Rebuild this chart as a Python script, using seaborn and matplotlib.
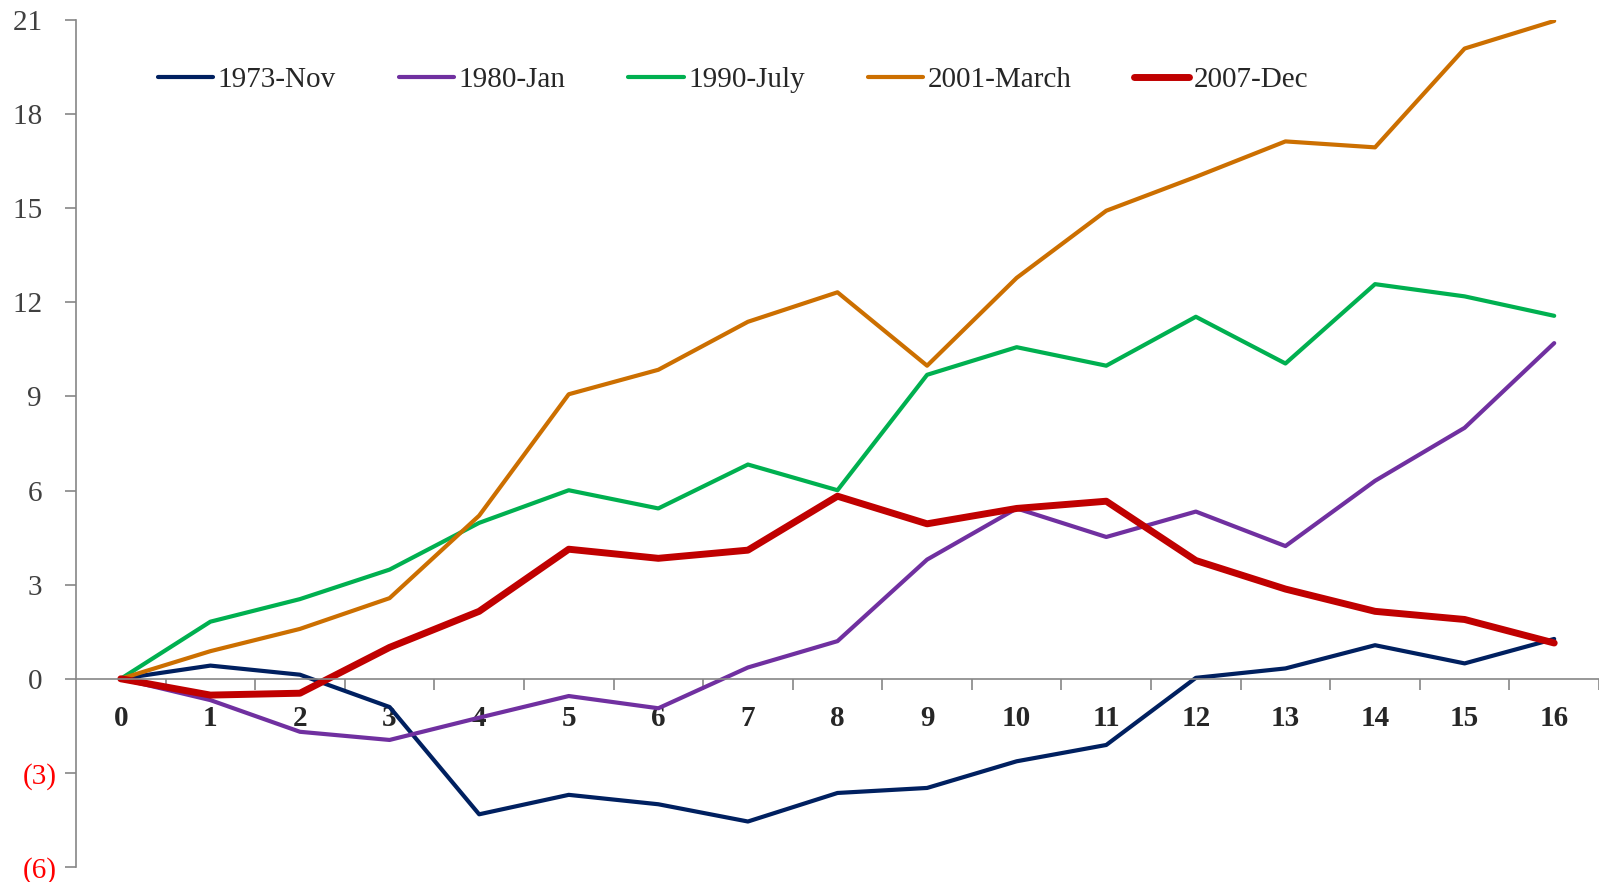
import pandas as pd
import matplotlib.pyplot as plt
import seaborn as sns
from matplotlib.ticker import FixedLocator, FuncFormatter

# months since start of recession
months = list(range(17))

# cumulative change
nov_1973 = [0, 0.42, 0.13, -0.9, -4.32, -3.7, -4.0, -4.55, -3.64, -3.48, -2.63, -2.11, 0.03, 0.33, 1.07, 0.49, 1.27]
jan_1980 = [0, -0.68, -1.69, -1.95, -1.24, -0.55, -0.94, 0.36, 1.2, 3.8, 5.43, 4.52, 5.33, 4.23, 6.31, 8.0, 10.7]
jul_1990 = [0, 1.82, 2.54, 3.48, 4.97, 6.01, 5.43, 6.83, 6.01, 9.69, 10.57, 9.98, 11.54, 10.05, 12.58, 12.19, 11.57]
mar_2001 = [0, 0.88, 1.59, 2.57, 5.2, 9.07, 9.85, 11.38, 12.32, 9.98, 12.78, 14.92, 16.0, 17.13, 16.94, 20.09, 20.97]
dec_2007 = [0, -0.52, -0.46, 1.0, 2.15, 4.13, 3.84, 4.1, 5.82, 4.94, 5.43, 5.66, 3.77, 2.86, 2.15, 1.89, 1.14]

series_names = ['1973-Nov', '1980-Jan', '1990-July', '2001-March', '2007-Dec']
series_values = [nov_1973, jan_1980, jul_1990, mar_2001, dec_2007]
colors = ['#002060', '#7030A0', '#00B050', '#CC6F00', '#C00000']
widths = [3.0, 3.0, 3.0, 3.0, 5.0]

y_ticks = [-6, -3, 0, 3, 6, 9, 12, 15, 18, 21]

sns.set_style('white')
plt.rcParams['font.family'] = ['Liberation Serif', 'DejaVu Serif']

df = pd.DataFrame({name: vals for name, vals in zip(series_names, series_values)})
df['Month'] = months
long_df = df.melt(id_vars='Month', var_name='Series', value_name='Value')

fig = plt.figure(figsize=(15.99, 8.82), dpi=100)
ax = fig.add_axes([76 / 1599, 15 / 882, 1 - 76 / 1599, (867 - 20) / 882])

for name, color, lw in zip(series_names, colors, widths):
    sub = long_df[long_df['Series'] == name]
    sns.lineplot(data=sub, x='Month', y='Value', ax=ax, color=color,
                 linewidth=lw, label=name, solid_capstyle='round')

ax.set_xlim(-0.5, 16.5)
ax.set_ylim(-6, 21)

# spines: left spine plus a category axis sitting on zero
for s in ['top', 'right']:
    ax.spines[s].set_visible(False)
ax.spines['bottom'].set_position(('data', 0))
for s in ['left', 'bottom']:
    ax.spines[s].set_color('#868686')
    ax.spines[s].set_linewidth(1.2)

# y axis
ax.set_yticks(y_ticks)
ax.yaxis.set_major_formatter(FuncFormatter(
    lambda v, p: f'({abs(int(v))})' if v < 0 else f'{int(v)}  '))
ax.tick_params(axis='y', left=True, direction='out', length=8, width=1.2,
               color='#868686', labelsize=21, pad=6)
for lbl, v in zip(ax.get_yticklabels(), y_ticks):
    lbl.set_color('#FF0000' if v < 0 else '#404040')

# x axis: tick marks between categories, labels at the centres
ax.xaxis.set_major_locator(FixedLocator([m + 0.5 for m in months[:-1]] + [16.5]))
ax.xaxis.set_major_formatter(FuncFormatter(lambda v, p: ''))
ax.xaxis.set_minor_locator(FixedLocator(months))
ax.xaxis.set_minor_formatter(FuncFormatter(lambda v, p: f'{int(round(v))}'))
ax.tick_params(axis='x', which='major', bottom=True, direction='out', length=8,
               width=1.2, color='#868686')
ax.tick_params(axis='x', which='minor', bottom=True, length=0, labelsize=21,
               pad=19, labelcolor='#262626')
for lbl in ax.get_xticklabels(minor=True):
    lbl.set_fontweight('bold')

ax.set_xlabel('')
ax.set_ylabel('')
ax.grid(False)

ax.legend(loc='center left', bbox_to_anchor=(158 / 1599, 1 - 80 / 882),
          bbox_transform=fig.transFigure, ncol=5, frameon=False,
          fontsize=21, handlelength=1.9, handletextpad=0.15,
          columnspacing=2.15, borderpad=0, borderaxespad=0,
          labelcolor='#262626')

fig.savefig('out.png', dpi=100)
plt.close(fig)
